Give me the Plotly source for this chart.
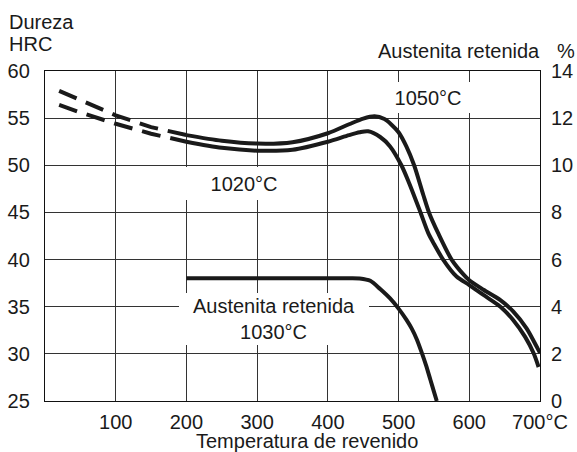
import plotly.graph_objects as go

# ---- data ----
# Hardness, 1050 °C hardening (upper curve), HRC
h1050_dash_x = [20, 50, 100, 150, 200]
h1050_dash_y = [57.9, 56.9, 55.3, 54.05, 53.2]
h1050_x = [200, 250, 300, 350, 400, 430, 450, 466, 480, 490, 500, 511, 522, 535, 543,
           556, 575, 592, 600, 620, 644, 662, 681, 695, 700]
h1050_y = [53.2, 52.6, 52.3, 52.45, 53.4, 54.35, 54.95, 55.2, 54.9, 54.3, 53.5, 52.0,
           50.0, 46.85, 45.0, 42.8, 40.0, 38.4, 37.8, 36.8, 35.7, 34.5, 32.7, 30.8, 30.1]

# Hardness, 1020 °C hardening (lower curve), HRC
h1020_dash_x = [20, 50, 100, 150, 200]
h1020_dash_y = [56.4, 55.6, 54.4, 53.35, 52.5]
h1020_x = [200, 250, 300, 350, 400, 430, 445, 457, 474, 488, 504, 515, 530, 542, 549,
           563, 582, 600, 620, 644, 662, 679, 691, 698]
h1020_y = [52.5, 51.85, 51.55, 51.65, 52.5, 53.2, 53.5, 53.6, 53.0, 52.0, 50.0, 48.1,
           45.2, 42.8, 41.8, 40.0, 38.2, 37.3, 36.25, 35.0, 33.6, 31.8, 30.06, 28.6]

# Retained austenite, 1030 °C hardening, %
aust_x = [200, 250, 300, 350, 400, 430, 445, 460, 474, 488, 500, 511, 519, 526, 533,
          539, 545, 550, 554]
aust_y = [5.21, 5.21, 5.21, 5.21, 5.21, 5.21, 5.2, 5.1, 4.75, 4.35, 3.92, 3.45, 3.05,
          2.6, 2.03, 1.5, 0.9, 0.4, 0.0]

x_ticks = [100, 200, 300, 400, 500, 600, 700]
x_ticklabels = ["100", "200", "300", "400", "500", "600", "700°C"]
hrc_ticks = [25, 30, 35, 40, 45, 50, 55, 60]
aust_ticks = [0, 2, 4, 6, 8, 10, 12, 14]

# ---- layout geometry ----
W, H = 577, 452
L, R, T, B = 45, 37, 71, 51
PW, PH = W - L - R, H - T - B
FONT = "Liberation Sans, Arial, sans-serif"
FS = 20
INK = "#1a1a1a"


def px(xp):
    return (xp - L) / PW


def py(yp):
    return (H - B - yp) / PH


fig = go.Figure()

line_style = dict(color=INK, width=4, shape="spline", smoothing=0.8)
dash_style = dict(color=INK, width=4, dash="19px,10px")

fig.add_trace(go.Scatter(x=h1050_dash_x, y=h1050_dash_y, mode="lines",
                         line=dash_style, showlegend=False))
fig.add_trace(go.Scatter(x=h1050_x, y=h1050_y, mode="lines",
                         line=line_style, showlegend=False))
fig.add_trace(go.Scatter(x=h1020_dash_x, y=h1020_dash_y, mode="lines",
                         line=dash_style, showlegend=False))
fig.add_trace(go.Scatter(x=h1020_x, y=h1020_y, mode="lines",
                         line=line_style, showlegend=False))
fig.add_trace(go.Scatter(x=aust_x, y=aust_y, mode="lines", yaxis="y2",
                         line=line_style, showlegend=False))

anns = [
    dict(text="Dureza", x=px(9), y=py(22), xanchor="left", yanchor="middle"),
    dict(text="HRC", x=px(9), y=py(44), xanchor="left", yanchor="middle"),
    dict(text="Austenita retenida", x=px(540), y=py(50.5), xanchor="right", yanchor="middle"),
    dict(text="%", x=px(566), y=py(50.5), xanchor="center", yanchor="middle"),
    dict(text="Temperatura de revenido", x=px(307), y=py(441), xanchor="center", yanchor="middle"),
    dict(text="1050°C", x=px(427.5), y=py(97.5), xanchor="center", yanchor="middle",
         width=90, height=31, bgcolor="white"),
    dict(text="1020°C", x=px(243.5), y=py(183.5), xanchor="center", yanchor="middle",
         width=124, height=33, bgcolor="white"),
    dict(text="Austenita retenida<br>1030°C", x=px(274), y=py(319), xanchor="center",
         yanchor="middle", width=190, height=52, bgcolor="white"),
]
for a in anns:
    a.update(xref="paper", yref="paper", showarrow=False, borderpad=0, borderwidth=0,
             font=dict(family=FONT, size=FS, color=INK))
fig.update_layout(annotations=anns)

grid = dict(showgrid=True, gridcolor="#333333", gridwidth=1)
frame = dict(showline=True, linecolor="#111111", linewidth=1.3, mirror=True,
             zeroline=False, ticks="", automargin=False)

fig.update_layout(
    width=W, height=H,
    margin=dict(l=L, r=R, t=T, b=B, pad=0, autoexpand=False),
    paper_bgcolor="white", plot_bgcolor="white",
    font=dict(family=FONT, size=FS, color=INK),
    xaxis=dict(range=[0, 700], tickvals=x_ticks, ticktext=x_ticklabels,
               ticklabelstandoff=3, **grid, **frame),
    yaxis=dict(range=[25, 60], tickvals=hrc_ticks, ticklabelstandoff=10,
               **grid, **frame),
    yaxis2=dict(range=[0, 14], tickvals=aust_ticks, overlaying="y", side="right",
                showgrid=False, zeroline=False, ticks="", ticklabelstandoff=10,
                showline=False, automargin=False),
    showlegend=False,
)

fig.write_html("out.html", config={"displayModeBar": False},
               post_script="document.body.style.margin='0';document.body.style.overflow='hidden';")
